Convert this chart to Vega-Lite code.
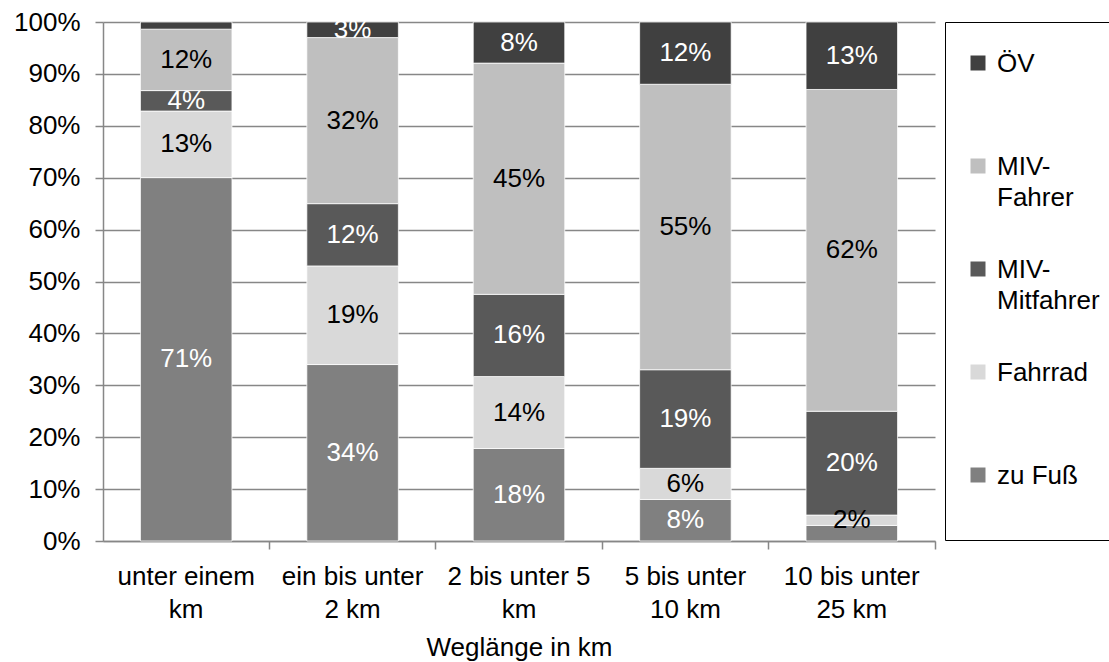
{
  "$schema": "https://vega.github.io/schema/vega-lite/v6.json",
  "width": 832,
  "height": 519,
  "autosize": {"type": "none"},
  "padding": {"left": 103, "top": 22, "right": 174, "bottom": 121},
  "background": "white",
  "config": {
    "view": {"stroke": null},
    "font": "Liberation Sans",
    "text": {"font": "Liberation Sans"},
    "style": {"guide-label": {"dy": 9, "lineHeight": 31}}
  },
  "data": {
    "values": [
      {"weg": "unter einem km", "modus": "zu Fuß", "anteil": 0.71},
      {"weg": "unter einem km", "modus": "Fahrrad", "anteil": 0.13},
      {"weg": "unter einem km", "modus": "MIV-Mitfahrer", "anteil": 0.04},
      {"weg": "unter einem km", "modus": "MIV-Fahrer", "anteil": 0.12},
      {"weg": "unter einem km", "modus": "ÖV", "anteil": 0.014},
      {"weg": "ein bis unter 2 km", "modus": "zu Fuß", "anteil": 0.34},
      {"weg": "ein bis unter 2 km", "modus": "Fahrrad", "anteil": 0.19},
      {"weg": "ein bis unter 2 km", "modus": "MIV-Mitfahrer", "anteil": 0.12},
      {"weg": "ein bis unter 2 km", "modus": "MIV-Fahrer", "anteil": 0.32},
      {"weg": "ein bis unter 2 km", "modus": "ÖV", "anteil": 0.03},
      {"weg": "2 bis unter 5 km", "modus": "zu Fuß", "anteil": 0.18},
      {"weg": "2 bis unter 5 km", "modus": "Fahrrad", "anteil": 0.14},
      {"weg": "2 bis unter 5 km", "modus": "MIV-Mitfahrer", "anteil": 0.16},
      {"weg": "2 bis unter 5 km", "modus": "MIV-Fahrer", "anteil": 0.45},
      {"weg": "2 bis unter 5 km", "modus": "ÖV", "anteil": 0.08},
      {"weg": "5 bis unter 10 km", "modus": "zu Fuß", "anteil": 0.08},
      {"weg": "5 bis unter 10 km", "modus": "Fahrrad", "anteil": 0.06},
      {"weg": "5 bis unter 10 km", "modus": "MIV-Mitfahrer", "anteil": 0.19},
      {"weg": "5 bis unter 10 km", "modus": "MIV-Fahrer", "anteil": 0.55},
      {"weg": "5 bis unter 10 km", "modus": "ÖV", "anteil": 0.12},
      {"weg": "10 bis unter 25 km", "modus": "zu Fuß", "anteil": 0.03},
      {"weg": "10 bis unter 25 km", "modus": "Fahrrad", "anteil": 0.02},
      {"weg": "10 bis unter 25 km", "modus": "MIV-Mitfahrer", "anteil": 0.20},
      {"weg": "10 bis unter 25 km", "modus": "MIV-Fahrer", "anteil": 0.62},
      {"weg": "10 bis unter 25 km", "modus": "ÖV", "anteil": 0.13}
    ]
  },
  "transform": [
    {"stack": "anteil", "groupby": ["weg"], "offset": "normalize", "as": ["anteil_unten", "anteil_oben"]},
    {"calculate": "(datum.anteil_unten + datum.anteil_oben) / 2", "as": "anteil_mitte"}
  ],
  "encoding": {
    "x": {
      "field": "weg",
      "type": "nominal",
      "sort": ["unter einem km", "ein bis unter 2 km", "2 bis unter 5 km", "5 bis unter 10 km", "10 bis unter 25 km"],
      "scale": {"paddingInner": 0, "paddingOuter": 0},
      "axis": {
        "title": "Weglänge in km",
        "titleFont": "Liberation Sans",
        "titleFontSize": 26,
        "titleFontWeight": "normal",
        "titleColor": "black",
        "titlePadding": 12,
        "labelAngle": 0,
        "labelFontSize": 26,
        "labelColor": "black",
        "labelBaseline": "top",
        "labelLineHeight": 33,
        "labelPadding": 5,
        "labelOverlap": false,
        "labelLimit": 0,
        "labelExpr": "datum.label === 'unter einem km' ? ['unter einem', 'km'] : datum.label === 'ein bis unter 2 km' ? ['ein bis unter', '2 km'] : datum.label === '2 bis unter 5 km' ? ['2 bis unter 5', 'km'] : datum.label === '5 bis unter 10 km' ? ['5 bis unter', '10 km'] : ['10 bis unter', '25 km']",
        "bandPosition": 1,
        "tickSize": 8,
        "tickColor": "#878787",
        "tickWidth": 1.5,
        "domainColor": "#878787",
        "domainWidth": 1.5,
        "grid": false
      }
    }
  },
  "layer": [
    {
      "mark": {"type": "bar", "width": {"band": 0.55}, "stroke": "white", "strokeWidth": 0.75},
      "encoding": {
        "y": {
          "field": "anteil_oben",
          "type": "quantitative",
          "scale": {"domain": [0, 1], "nice": false},
          "axis": {
            "title": null,
            "values": [0, 0.1, 0.2, 0.3, 0.4, 0.5, 0.6, 0.7, 0.8, 0.9, 1],
            "format": ".0%",
            "labelFontSize": 26,
            "labelColor": "black",
            "labelPadding": 15,
            "labelOffset": -9,
            "tickSize": 8,
            "tickColor": "#878787",
            "tickWidth": 1.5,
            "domainColor": "#878787",
            "domainWidth": 1.5,
            "grid": true,
            "gridColor": "#878787",
            "gridWidth": 1.5
          }
        },
        "y2": {"field": "anteil_unten"},
        "color": {
          "field": "modus",
          "type": "nominal",
          "scale": {
            "domain": ["ÖV", "MIV-Fahrer", "MIV-Mitfahrer", "Fahrrad", "zu Fuß"],
            "range": ["#404040", "#bfbfbf", "#595959", "#d9d9d9", "#808080"]
          },
          "legend": {
            "title": " ",
            "titleFontSize": 1,
            "titlePadding": 7,
            "orient": "none",
            "legendX": 842,
            "legendY": 0,
            "direction": "vertical",
            "symbolType": "square",
            "symbolSize": 225,
            "symbolStrokeWidth": 0,
            "labelFont": "Liberation Sans",
            "labelFontSize": 26,
            "labelColor": "black",
            "labelOffset": 6,
            "labelLimit": 200,
            "labelBaseline": "alphabetic",
            "labelExpr": "datum.label === 'zu Fuß' ? ['zu Fuß', ' '] : split(replace(datum.label, '-', '-|'), '|')",
            "rowPadding": 45,
            "gridAlign": "all",
            "padding": 20,
            "strokeColor": "black",
            "fillColor": "white"
          }
        }
      }
    },
    {
      "transform": [
        {"filter": "!((datum.weg === 'unter einem km' && datum.modus === 'ÖV') || (datum.weg === '10 bis unter 25 km' && datum.modus === 'zu Fuß'))"}
      ],
      "mark": {"type": "text", "fontSize": 26, "baseline": "middle", "align": "center"},
      "encoding": {
        "y": {"field": "anteil_mitte", "type": "quantitative", "title": null},
        "text": {"field": "anteil", "type": "quantitative", "format": ".0%"},
        "color": {
          "condition": {"test": "datum.modus === 'Fahrrad' || datum.modus === 'MIV-Fahrer'", "value": "black"},
          "value": "white"
        }
      }
    }
  ]
}
